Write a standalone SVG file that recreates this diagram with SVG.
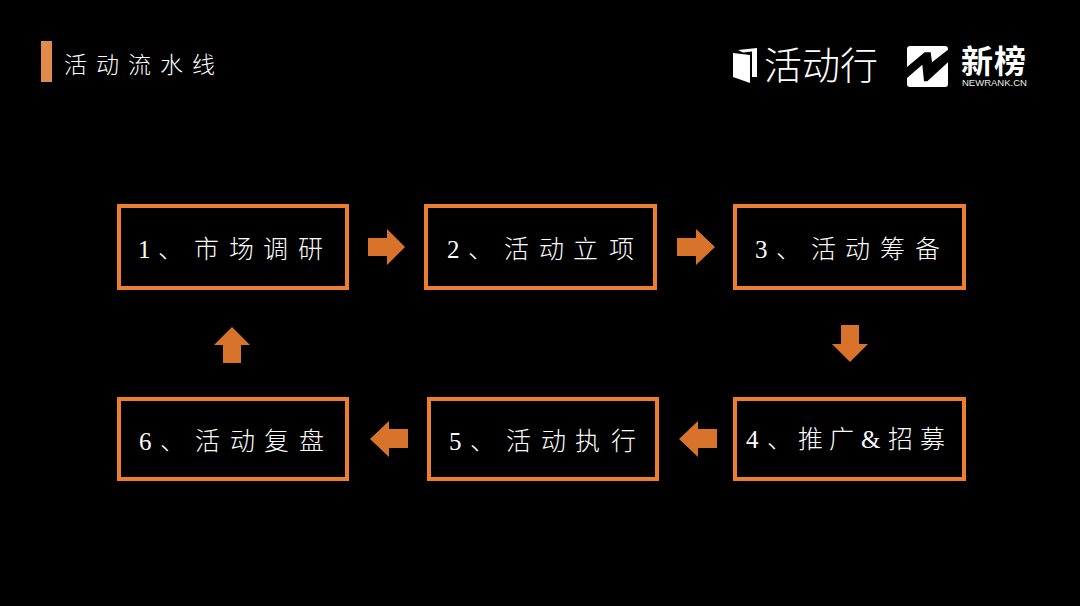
<svg xmlns="http://www.w3.org/2000/svg" width="1080" height="606" viewBox="0 0 1080 606">
<style>
.box{fill:#000;stroke:#ed7d31;stroke-width:4}
.arr{fill:#d9732c}
.t{font-family:"Noto Sans CJK SC","Liberation Serif",serif;font-size:25px;fill:#fff;font-weight:300}
.n{font-family:"Liberation Serif","Noto Sans CJK SC",serif}
.logo{font-family:"Noto Sans CJK SC","Liberation Sans",sans-serif;fill:#fff}
</style>
<rect width="1080" height="606" fill="#000"/>
<g id="title">
<rect x="41" y="41" width="11" height="41" fill="#e08a4c"/>
<text class="t" style="font-size:23px" y="73" x="64 96 128 160 192">活动流水线</text>
</g>
<g id="logo-huodongxing">
<path d="M733 53L750 55V83L733 77Z M738 50L757 48V77H752V51.500L743 52.500Z" fill="#fff"/>
<text class="logo" x="764" y="79" style="font-size:38px;font-weight:300">活动行</text>
</g>
<g id="logo-newrank">
<rect x="907" y="46" width="41" height="41" rx="3" fill="#fff"/>
<path d="M907 67L924.700 52.300H930.700L932 62.300L948 49.700V62.300L927.300 81.300H924L922.300 64.700L907 78Z" fill="#000"/>
<text class="logo" x="961" y="73" style="font-size:32px;font-weight:700;letter-spacing:1px">新榜</text>
<text x="962" y="86" style="font-family:'Liberation Sans',sans-serif;font-size:9.500px;fill:#eee">NEWRANK.CN</text>
</g>
<g id="node1"><rect class="box" x="119" y="206" width="228" height="82"/>
<text class="t" y="258"><tspan class="n" x="138">1</tspan><tspan x="158">、</tspan><tspan x="194 229 263 298">市场调研</tspan></text></g>
<g id="node2"><rect class="box" x="426" y="206" width="229" height="82"/>
<text class="t" y="258"><tspan class="n" x="447">2</tspan><tspan x="468">、</tspan><tspan x="504 539 573 609">活动立项</tspan></text></g>
<g id="node3"><rect class="box" x="735" y="206" width="229" height="82"/>
<text class="t" y="258"><tspan class="n" x="755">3</tspan><tspan x="776">、</tspan><tspan x="811 845 880 915">活动筹备</tspan></text></g>
<g id="node4"><rect class="box" x="735" y="399" width="229" height="80"/>
<text class="t" y="448"><tspan class="n" x="746">4</tspan><tspan x="767">、</tspan><tspan x="798 829">推广</tspan><tspan class="n" x="861">&amp;</tspan><tspan x="888 920">招募</tspan></text></g>
<g id="node5"><rect class="box" x="429" y="399" width="228" height="80"/>
<text class="t" y="450"><tspan class="n" x="449">5</tspan><tspan x="470">、</tspan><tspan x="506 541 575 611">活动执行</tspan></text></g>
<g id="node6"><rect class="box" x="119" y="399" width="228" height="80"/>
<text class="t" y="450"><tspan class="n" x="139">6</tspan><tspan x="160">、</tspan><tspan x="195 230 264 299">活动复盘</tspan></text></g>
<g id="connectors">
<path class="arr" d="M368 238H387V229L405 247L387 265V256H368Z"/>
<path class="arr" d="M677 238H696V229L715 247L696 265V256H677Z"/>
<path class="arr" d="M841 325H859V344H868L850 362L832 344H841Z"/>
<path class="arr" d="M717 429H698V421L679 439L698 457V448H717Z"/>
<path class="arr" d="M408 429H389V421L370 439L389 457V448H408Z"/>
<path class="arr" d="M223 363H241V345H250L232 327L214 345H223Z"/>
</g>
</svg>
